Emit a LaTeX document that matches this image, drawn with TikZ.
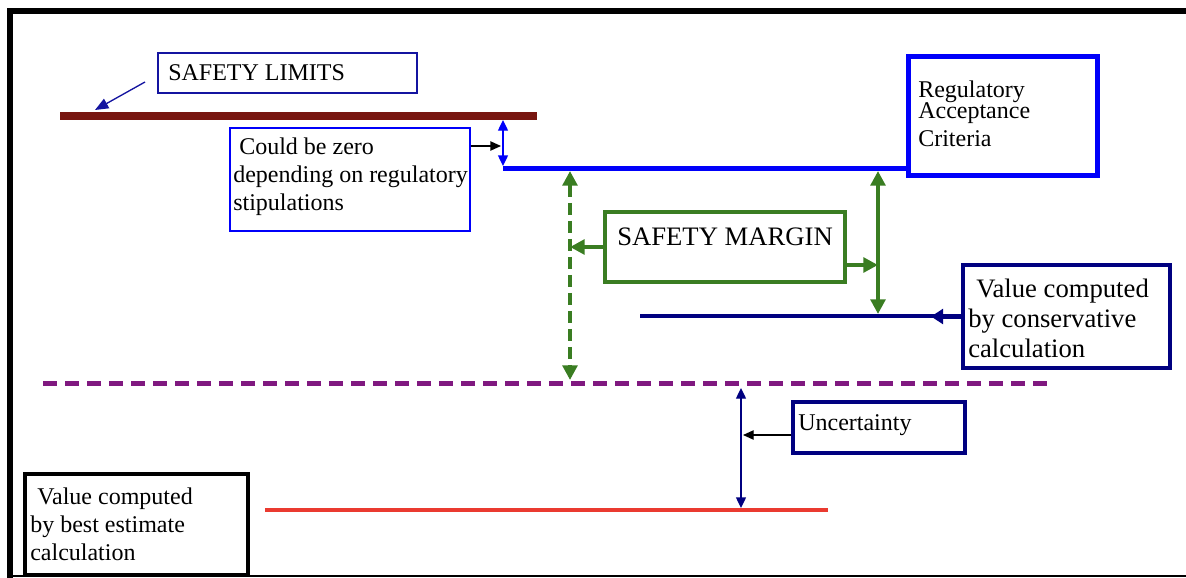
\documentclass[tikz,border=0pt]{standalone}
\usepackage{fontspec}
\setmainfont{Liberation Serif}
\usetikzlibrary{positioning,arrows.meta,calc}
\definecolor{limitRed}{RGB}{120,22,16}
\definecolor{critBlue}{RGB}{0,0,250}
\definecolor{limitNavy}{RGB}{20,20,160}
\definecolor{consNavy}{RGB}{0,0,128}
\definecolor{marginGreen}{RGB}{58,125,34}
\definecolor{bestPurple}{RGB}{128,25,128}
\definecolor{bestRed}{RGB}{234,58,48}
\tikzset{
    % Style for the boxes round the labels
    thin box/.style={
        draw,
        fill=white,
        inner sep=0pt,
        line width=1.1pt
    },
    thick box/.style={
        draw,
        fill=white,
        inner sep=0pt,
        line width=3pt
    },
    % Style for the label texts (anchored at the last baseline)
    box text/.style={
        anchor=base west,
        align=left,
        inner sep=0pt,
        font=\fontsize{18pt}{21pt}\selectfont
    },
    big text/.style={
        box text,
        font=\fontsize{20pt}{22.5pt}\selectfont
    },
    % Thin pointers and double arrows
    thin arrow/.style={
        -{Triangle[length=8pt,width=7pt]},
        line width=1pt
    },
    thin both/.style={
        {Triangle[length=8pt,width=7.5pt]}-{Triangle[length=8pt,width=7.5pt]},
        line width=1pt
    },
    % Green margin arrows
    green arrow/.style={
        -{Triangle[length=11pt,width=11pt]},
        line width=3pt,
        color=marginGreen
    },
    green both/.style={
        {Triangle[length=11pt,width=11pt]}-{Triangle[length=11pt,width=11pt]},
        line width=3pt,
        color=marginGreen
    }
}

\begin{document}
\begin{tikzpicture}[x=0.75pt,y=-0.75pt]

% Set the canvas size
\path[use as bounding box] (0,0) rectangle (1186,578);

% Outer frame
\draw[line width=4.5pt, miter limit=10] (1190,11) -- (10,11) -- (10,580);
\draw[line width=1.5pt] (10,576) -- (1186,576);

% Boxes with their labels
\node[thin box, draw=limitNavy, minimum width=194.25pt, minimum height=30pt] (limits) at (287.5,73) {};
\node[box text] (limitsText) at (168,80) {SAFETY LIMITS};

\node[thin box, draw=critBlue, minimum width=180pt, minimum height=77.25pt] (zero) at (350,179.5) {};
\node[box text] (zeroText) at (233,210) {\hspace{0.25em}Could be zero\\depending on regulatory\\stipulations};

\node[thick box, draw=critBlue, line width=3.75pt, minimum width=141.75pt, minimum height=89.25pt] (crit) at (1002.5,115.5) {};
\node[box text] (critText) at (918,146) {Regulatory\\[-5.5pt]Acceptance\\Criteria};

\node[thick box, draw=marginGreen, minimum width=180pt, minimum height=52.5pt] (margin) at (725,247) {};
\node[big text] (marginText) at (617,245) {SAFETY MARGIN};

\node[thick box, draw=consNavy, line width=3.5pt, minimum width=155.25pt, minimum height=77.25pt] (cons) at (1066.5,316.5) {};
\node[big text] (consText) at (968,357) {\hspace{0.3em}Value computed\\by conservative\\calculation};

\node[thick box, draw=consNavy, minimum width=129pt, minimum height=38.25pt] (unc) at (879,427.5) {};
\node[box text] (uncText) at (798,430) {Uncertainty};

\node[thick box, draw=black, minimum width=167.25pt, minimum height=75.75pt] (best) at (136.5,524.5) {};
\node[box text] (bestText) at (30,560) {\hspace{0.3em}Value computed\\by best estimate\\calculation};

% Level lines
\coordinate (limitL) at (60,116);
\coordinate (limitR) at (537,116);
\draw[line width=6pt, limitRed] (limitL) -- (limitR);

\coordinate (critL) at (503,168);
\draw[line width=3.75pt, critBlue] (critL) -- (critL -| crit.west);

\coordinate (consL) at (640,316);
\draw[line width=3pt, consNavy] (consL) -- (consL -| cons.west);

\coordinate (bestTopL) at (43,383);
\coordinate (bestTopR) at (1048,383);
\draw[line width=3.75pt, bestPurple, dash pattern=on 10.5pt off 6pt] (bestTopL) -- (bestTopR);

\coordinate (bestL) at (265,510);
\coordinate (bestR) at (828,510);
\draw[line width=3pt, bestRed] (bestL) -- (bestR);

% Pointers to the lines
\coordinate (limitTail) at (145,82);
\coordinate (limitTip) at (95,110);
\draw[-{Triangle[length=10pt,width=8pt]}, line width=1pt, limitNavy] (limitTail) -- (limitTip);

\coordinate (gapTop) at (503,120);
\coordinate (gapBot) at (503,166);
\draw[thin both, critBlue] (gapTop) -- (gapBot);
\coordinate (zeroTip) at (501,146);
\draw[thin arrow] (zeroTip -| zero.east) -- (zeroTip);

% Safety margin arrows
\coordinate (marginTop) at (570,171);
\coordinate (marginBot) at (570,380);
\draw[green both, dash pattern=on 9pt off 4.5pt] (marginTop) -- (marginBot);
\coordinate (consTop) at (878,171);
\coordinate (consBot) at (878,314);
\draw[green both] (consTop) -- (consBot);
\draw[green arrow] (margin.west) -- (margin.west -| marginTop);
\coordinate (marginOut) at ([yshift=-13.5pt]margin.east);
\draw[green arrow] (marginOut) -- (marginOut -| consTop);

\coordinate (consTip) at (931,316);
\draw[-{Triangle[length=9pt,width=11pt]}, line width=3pt, consNavy] (cons.west) -- (cons.west -| consTip);

% Uncertainty arrows
\coordinate (uncTop) at (741,388);
\coordinate (uncBot) at (741,508);
\draw[thin both, consNavy] (uncTop) -- (uncBot);
\coordinate (uncTip) at (743,435);
\draw[thin arrow] (uncTip -| unc.west) -- (uncTip);

\end{tikzpicture}
\end{document}
